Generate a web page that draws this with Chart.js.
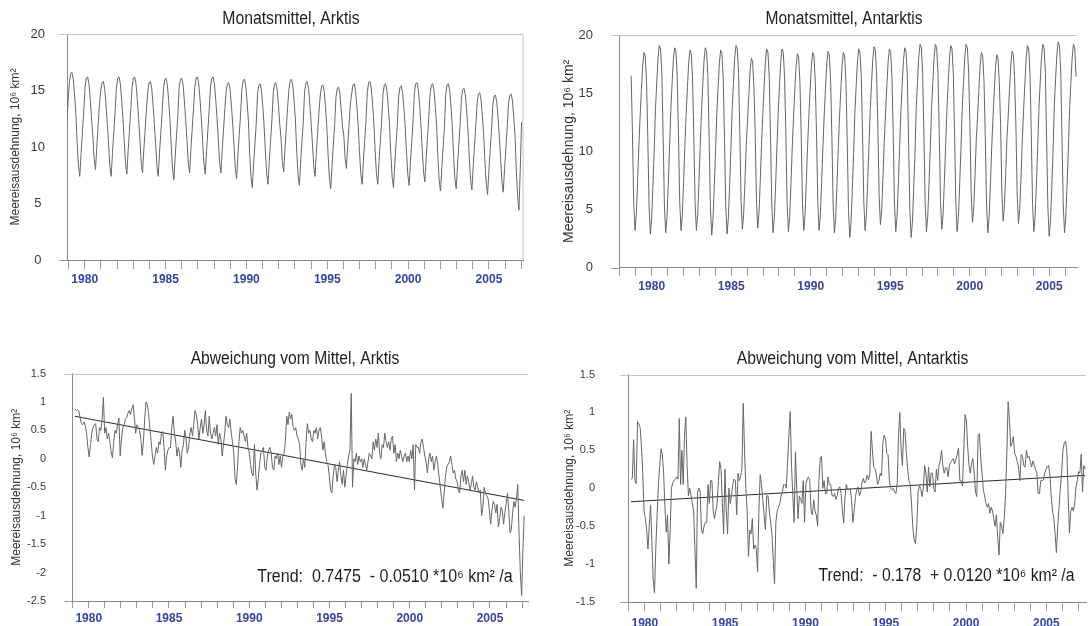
<!DOCTYPE html>
<html><head><meta charset="utf-8">
<script src="https://cdn.jsdelivr.net/npm/chart.js@4.4.1/dist/chart.umd.min.js"></script>
<style>
html,body{margin:0;padding:0;background:#fff;}
body{width:1088px;height:626px;position:relative;overflow:hidden;}
canvas{position:absolute;}
</style></head>
<body>
<canvas id="tl" width="545" height="300" style="left:0;top:0"></canvas>
<canvas id="tr" width="543" height="300" style="left:545px;top:0"></canvas>
<canvas id="bl" width="545" height="296" style="left:0;top:330px"></canvas>
<canvas id="br" width="543" height="296" style="left:545px;top:330px"></canvas>
<script>
// ---------- Daten ----------
const startJahr = 1978, startMonat = 11;   // erster Monatswert: Nov 1978
const jahre = [1978,1979,1980,1981,1982,1983,1984,1985,1986,1987,1988,1989,1990,1991,1992,1993,1994,1995,1996,1997,1998,1999,2000,2001,2002,2003,2004,2005,2006,2007];
const beschriftungsJahre = [1980,1985,1990,1995,2000,2005];

const arktisMonat = [
 12.1,14.0,
 15.7,16.5,16.6,16.0,14.6,12.9,10.3,8.3,7.4,9.5,11.3,13.1,
 15.3,16.1,16.2,15.6,14.2,12.5,10.9,8.9,8.0,10.0,11.9,13.7,
 15.0,15.7,15.8,15.2,13.8,12.1,10.3,8.3,7.4,9.5,11.3,13.1,
 15.2,16.1,16.2,15.6,14.2,12.5,10.5,8.5,7.6,9.7,11.5,13.3,
 15.3,16.1,16.2,15.6,14.2,12.5,10.6,8.6,7.7,9.8,11.6,13.4,
 14.9,15.7,15.8,15.2,13.8,12.1,10.3,8.3,7.4,9.5,11.3,13.1,
 15.1,16.0,16.1,15.5,14.1,12.4,10.0,8.0,7.1,9.2,11.0,12.8,
 15.2,16.0,16.1,15.5,14.1,12.4,10.6,8.6,7.7,9.8,11.6,13.4,
 15.3,16.1,16.2,15.6,14.2,12.5,10.5,8.5,7.6,9.7,11.5,13.3,
 15.3,16.1,16.2,15.6,14.2,12.5,10.6,8.6,7.7,9.8,11.6,13.4,
 15.0,15.6,15.7,15.1,13.7,12.0,10.1,8.1,7.2,9.3,11.1,12.9,
 15.1,15.9,16.0,15.4,14.0,12.3,9.3,7.3,6.4,8.5,10.3,12.1,
 14.7,15.5,15.6,15.0,13.6,11.9,9.6,7.6,6.7,8.8,10.6,12.4,
 14.8,15.6,15.7,15.1,13.7,12.0,10.7,8.7,7.8,9.9,11.7,13.5,
 15.1,15.9,16.0,15.4,14.0,12.3,9.5,7.5,6.6,8.7,10.5,12.3,
 14.9,15.7,15.8,15.2,13.8,12.1,10.3,8.3,7.4,9.5,11.3,13.1,
 14.6,15.4,15.5,14.9,13.5,11.8,9.2,7.2,6.3,8.4,10.2,12.0,
 14.4,15.2,15.3,14.7,13.3,11.8,11.0,9.0,8.1,10.2,12.0,13.8,
 14.7,15.5,15.6,15.0,13.6,11.9,9.6,7.6,6.7,8.8,10.6,12.4,
 14.9,15.7,15.8,15.2,13.8,12.1,9.6,7.6,6.7,8.8,10.6,12.4,
 14.7,15.5,15.6,15.0,13.6,11.9,9.3,7.3,6.4,8.5,10.3,12.1,
 14.5,15.3,15.4,14.8,13.4,11.7,9.5,7.5,6.6,8.7,10.5,12.3,
 14.8,15.6,15.7,15.1,13.7,12.0,9.8,7.8,6.9,9.0,10.8,12.6,
 14.7,15.5,15.6,15.0,13.6,11.9,9.0,7.0,6.1,8.2,10.0,11.8,
 14.7,15.5,15.6,15.0,13.6,11.9,9.2,7.2,6.3,8.4,10.2,12.0,
 14.3,15.1,15.2,14.6,13.2,11.5,9.1,7.1,6.2,8.3,10.1,11.9,
 13.9,14.7,14.8,14.2,12.8,11.1,8.7,6.7,5.8,7.9,9.7,11.5,
 13.7,14.5,14.6,14.0,12.6,10.9,8.9,6.9,6.0,8.1,9.9,11.7,
 13.8,14.6,14.7,14.1,12.7,11.0,7.9,5.6,4.4,8.0,12.2
];

const antarktisMonat = [
 16.5,11.6,
 5.6,3.2,4.5,7.3,10.4,13.0,15.3,17.4,18.5,18.2,16.1,11.2,
 5.3,2.9,4.2,7.0,10.1,13.6,15.9,18.0,19.1,18.8,16.7,11.3,
 5.4,3.0,4.3,7.1,10.2,13.5,15.8,17.9,18.9,18.6,16.5,11.5,
 5.6,3.2,4.5,7.3,10.4,13.2,15.5,17.6,18.7,18.4,16.3,11.4,
 5.6,3.2,4.5,7.3,10.4,13.4,15.7,17.8,18.9,18.6,16.5,11.1,
 5.2,2.8,4.1,6.9,10.0,13.2,15.5,17.6,18.7,18.4,16.3,11.2,
 5.3,2.9,4.2,7.0,10.1,13.6,15.9,18.0,19.1,18.8,16.7,11.6,
 5.7,3.3,4.6,7.4,10.5,12.5,14.8,16.9,18.0,17.7,15.6,11.7,
 5.8,3.4,4.7,7.5,10.6,13.3,15.6,17.7,18.8,18.5,16.4,11.3,
 5.4,3.0,4.3,7.1,10.2,13.3,15.6,17.7,18.8,18.5,16.4,11.5,
 5.5,3.1,4.4,7.2,10.3,12.9,15.2,17.3,18.4,18.1,16.0,11.5,
 5.6,3.2,4.5,7.3,10.4,13.0,15.3,17.4,18.5,18.2,16.1,11.5,
 5.6,3.2,4.5,7.3,10.4,13.1,15.4,17.5,18.6,18.3,16.2,11.3,
 5.4,3.0,4.3,7.1,10.2,13.0,15.3,17.4,18.5,18.2,16.1,10.9,
 5.0,2.6,3.9,6.7,9.8,13.3,15.6,17.7,18.8,18.5,16.4,11.5,
 5.6,3.2,4.5,7.3,10.4,13.5,15.8,17.9,19.0,18.7,16.6,12.0,
 6.1,3.7,5.0,7.8,10.9,13.3,15.6,17.7,18.8,18.5,16.4,11.4,
 5.5,3.1,4.4,7.2,10.3,13.4,15.7,17.8,18.9,18.6,16.5,10.9,
 5.0,2.6,3.9,6.7,9.8,13.7,16.0,18.1,19.2,18.9,16.8,11.4,
 5.5,3.1,4.4,7.2,10.3,13.7,16.0,18.1,19.2,18.9,16.8,11.6,
 5.7,3.3,4.6,7.4,10.5,13.6,15.9,18.0,19.1,18.8,16.7,11.4,
 5.5,3.1,4.4,7.2,10.3,13.7,16.0,18.1,19.2,18.9,16.8,12.2,
 6.3,3.9,5.2,8.0,11.1,13.0,15.3,17.4,18.5,18.2,16.1,11.3,
 5.4,3.0,4.3,7.1,10.2,12.8,15.1,17.2,18.3,18.0,15.9,12.3,
 6.4,4.0,5.3,8.1,11.2,13.1,15.4,17.5,18.6,18.3,16.2,12.1,
 6.2,3.8,5.1,7.9,11.0,13.6,15.9,18.0,19.1,18.8,16.7,11.4,
 5.5,3.1,4.4,7.2,10.3,13.7,16.0,18.1,19.2,18.9,16.8,11.0,
 5.1,2.7,4.0,6.8,9.9,13.9,16.2,18.3,19.4,19.1,17.0,11.4,
 5.4,3.0,4.3,7.1,10.2,13.7,16.0,18.1,19.2,18.9,16.4
];

const arktisAbweichung = [
 0.88,0.85,
 0.86,0.84,0.72,0.62,0.60,0.65,0.58,0.45,0.20,0.03,0.25,0.45,
 0.55,0.60,0.62,0.35,0.30,0.55,0.50,0.70,1.08,0.45,0.55,0.35,
 0.45,0.30,0.12,0.02,0.30,0.50,0.45,0.60,0.72,0.05,0.35,0.55,
 0.60,0.70,0.72,0.80,0.85,0.78,0.88,0.95,0.72,0.45,0.60,0.55,
 0.50,0.35,0.06,0.30,0.70,1.00,0.95,0.80,0.55,0.30,0.05,-0.10,
 0.05,0.20,0.10,0.30,0.25,0.45,0.48,0.20,-0.20,0.05,0.15,0.20,
 0.20,0.55,0.75,0.45,0.30,0.05,0.20,0.10,-0.15,0.15,0.25,0.50,
 0.35,0.10,0.20,0.45,0.55,0.40,0.60,0.85,0.78,0.60,0.35,0.55,
 0.70,0.45,0.60,0.85,0.50,0.40,0.75,0.45,0.35,0.45,0.55,0.40,
 0.60,0.25,0.45,0.35,0.05,0.25,0.45,0.75,0.60,0.55,0.70,0.45,
 0.30,0.10,-0.35,-0.45,-0.10,0.30,0.55,0.45,0.50,0.40,0.30,0.45,
 0.20,0.10,-0.10,-0.25,-0.30,0.25,-0.25,-0.55,-0.35,-0.10,0.10,0.15,
 0.20,-0.15,-0.20,0.05,0.15,0.20,0.10,-0.15,-0.20,0.05,0.00,0.10,
 -0.10,0.05,-0.15,0.05,0.10,0.30,0.75,0.60,0.82,0.70,0.78,0.55,
 0.50,0.55,0.40,0.35,0.25,-0.10,-0.20,0.00,-0.15,0.30,0.62,0.45,
 0.50,0.35,0.30,0.50,0.45,0.55,0.35,0.50,0.55,0.40,0.15,0.30,
 0.10,-0.05,-0.10,-0.30,-0.55,-0.60,-0.30,-0.10,-0.15,-0.40,-0.20,-0.05,
 -0.30,-0.45,-0.20,-0.50,-0.30,-0.10,0.05,0.15,1.15,-0.50,0.00,-0.05,
 0.10,-0.10,0.05,-0.05,0.00,-0.15,0.00,-0.10,-0.20,-0.05,0.10,0.05,
 0.00,0.30,0.15,0.35,0.20,0.45,0.10,0.00,0.25,0.20,0.45,0.30,
 0.20,0.30,0.15,0.35,0.40,0.10,0.25,-0.05,0.10,0.00,0.15,0.05,
 -0.05,0.05,0.10,-0.05,0.05,-0.05,0.15,0.00,0.25,-0.55,0.25,0.20,
 0.20,0.10,0.30,0.35,0.20,0.05,-0.05,-0.25,0.00,0.10,-0.05,0.05,
 -0.20,-0.05,0.05,-0.10,-0.30,-0.50,-0.70,-0.87,-0.60,-0.30,-0.15,-0.10,
 -0.05,0.05,-0.10,-0.25,-0.20,-0.35,-0.40,-0.55,-0.60,-0.30,-0.20,-0.40,
 -0.20,-0.45,-0.30,-0.40,-0.55,-0.45,-0.30,-0.50,-0.55,-0.40,-0.50,-0.60,
 -0.55,-1.00,-0.85,-0.50,-0.60,-0.65,-0.70,-0.90,-1.15,-0.90,-0.75,-0.80,
 -0.95,-0.80,-1.20,-1.05,-0.85,-0.90,-1.15,-0.95,-0.80,-0.60,-0.90,-1.30,
 -1.25,-0.95,-0.75,-0.85,-0.70,-0.45,-1.30,-2.00,-2.40,-1.60,-1.00
];

const antarktisAbweichung = [
 0.12,0.13,
 0.64,0.10,0.06,0.88,0.85,0.80,0.55,0.20,-0.30,-0.40,-0.55,-0.80,
 -0.50,-0.22,-0.70,-1.20,-1.38,-0.80,-0.35,0.05,0.30,0.52,0.45,0.20,
 -0.25,-0.58,-0.35,-1.00,-0.55,0.00,0.07,0.10,0.12,0.15,0.12,0.92,
 0.05,0.50,0.05,0.70,0.94,0.30,-0.10,0.00,-0.10,-0.20,-0.30,-0.80,
 -1.32,-0.05,0.00,-0.05,-0.55,-0.60,-0.50,-0.45,-0.45,0.05,-0.20,0.10,
 0.10,-0.30,-0.40,-0.30,-0.20,0.10,0.35,0.25,-0.20,-0.60,0.25,-0.30,
 -0.60,0.00,-0.20,-0.10,0.05,0.12,0.10,-0.35,0.20,0.10,0.15,0.25,
 1.12,0.50,0.00,-0.30,-0.90,-0.55,-0.60,-0.40,-0.80,-0.75,-0.80,-1.10,
 -0.30,0.18,0.05,-0.15,-0.35,-0.55,-0.10,-0.10,-0.30,-0.45,-0.60,-0.95,
 -1.26,-0.45,-0.30,-0.25,-0.20,-0.10,-0.05,0.05,0.05,0.00,0.35,0.70,
 1.01,0.30,-0.10,-0.45,0.48,0.00,-0.40,-0.10,-0.15,-0.20,0.10,-0.45,
 0.05,0.12,0.15,0.10,-0.30,-0.35,-0.15,-0.30,-0.35,-0.50,0.10,0.40,
 0.42,0.00,0.10,-0.07,-0.07,0.15,0.05,0.05,-0.09,-0.11,-0.07,-0.15,
 -0.10,0.00,0.02,-0.07,-0.30,-0.46,-0.11,0.05,-0.02,-0.02,0.00,-0.15,
 -0.45,-0.30,-0.11,-0.02,0.02,-0.10,-0.05,0.07,0.13,0.07,0.10,0.17,
 0.11,0.20,0.75,0.50,0.28,0.26,0.18,0.05,0.10,0.20,0.16,0.60,
 0.70,0.65,0.46,0.44,0.10,0.00,-0.02,0.00,-0.05,-0.07,0.06,0.70,
 1.00,0.50,0.30,0.79,0.75,0.46,0.25,0.10,0.05,-0.22,-0.52,-0.68,
 -0.73,-0.50,-0.05,0.03,0.00,-0.11,0.00,0.30,0.20,-0.05,0.28,0.02,
 0.20,0.20,0.00,-0.05,0.25,0.10,0.30,0.37,0.50,0.30,0.20,0.27,
 0.27,0.15,0.30,0.34,0.37,0.39,0.32,0.38,0.45,0.53,0.10,0.10,
 0.03,0.50,0.97,0.90,0.55,0.30,0.20,0.33,0.39,0.20,-0.05,-0.11,
 0.70,0.72,0.40,0.20,-0.02,-0.10,-0.20,-0.25,-0.20,-0.33,-0.25,-0.30,
 -0.40,-0.50,-0.35,-0.65,-0.88,-0.45,-0.50,-0.60,-0.40,-0.10,0.45,1.14,
 0.90,0.55,0.60,0.68,0.46,0.42,0.35,0.28,0.10,0.45,0.42,0.30,
 0.28,0.50,0.40,0.42,0.35,0.28,0.36,0.30,0.25,0.20,-0.07,-0.07,
 0.10,0.10,0.11,0.20,0.25,0.28,0.30,0.18,-0.10,-0.30,-0.40,-0.60,
 -0.85,-0.50,-0.25,0.00,0.20,0.50,0.60,0.62,0.50,-0.10,-0.59,-0.30,
 -0.25,-0.30,-0.20,0.02,0.10,0.22,0.20,0.45,-0.05,0.30,0.25
];

// Trendgeraden (Koeffizienten laut Beschriftung, Endpunkte Nov 1978 / Nov 2007)
const trendArktis = [0.7475, -0.7315];
const trendAntarktis = [-0.178, 0.170];

// ---------- Darstellung ----------
const FONT = '"Liberation Sans", Arial, Helvetica, sans-serif';
Chart.defaults.font.family = FONT;

function monatsZeit(i) { return startJahr + (startMonat - 1 + i) / 12; }

function skalierterText(ctx, s, x, y, size, sx, color) {
  ctx.save();
  ctx.translate(x, y);
  ctx.scale(sx, 1);
  ctx.font = size + 'px ' + FONT;
  ctx.textAlign = 'center';
  ctx.textBaseline = 'middle';
  ctx.fillStyle = color;
  ctx.fillText(s, 0, 0);
  ctx.restore();
}

function panel(id, p) {
  const werte = p.werte;
  const datasets = [{
    data: werte.map((v, i) => ({x: monatsZeit(i), y: v})),
    xAxisID: 'xd', yAxisID: 'y',
    borderColor: '#666666', borderWidth: 1, pointRadius: 0, tension: 0, fill: false
  }];
  if (p.trend) {
    datasets.push({
      data: [{x: monatsZeit(0), y: p.trend[0]}, {x: monatsZeit(werte.length - 1), y: p.trend[1]}],
      xAxisID: 'xd', yAxisID: 'y',
      borderColor: '#2a2a2a', borderWidth: 1, pointRadius: 0, fill: false
    });
  }
  const deko = {
    id: 'deko',
    afterDraw(chart) {
      const ctx = chart.ctx, a = chart.chartArea;
      const t = Math.round(a.top) + 0.5, b = Math.round(a.bottom) - 0.5;
      ctx.save();
      ctx.lineWidth = 1;
      ctx.strokeStyle = '#c4c4c4';
      ctx.beginPath();
      ctx.moveTo(a.left - 8, t);
      ctx.lineTo(a.right, t);
      if (p.rechts) ctx.lineTo(a.right, a.bottom);
      ctx.stroke();
      ctx.strokeStyle = '#9a9a9a';
      ctx.beginPath();
      ctx.moveTo(a.left - 8, b + 1);
      ctx.lineTo(a.left, b + 1);
      ctx.stroke();
      ctx.restore();
      skalierterText(ctx, p.titel, p.titelX, p.titelY, 18, p.titelSx, '#1e1e1e');
      if (p.trendText) skalierterText(ctx, p.trendText, p.trendX, p.trendY, 18, p.trendSx, '#1e1e1e');
    }
  };
  return new Chart(document.getElementById(id), {
    type: 'line',
    data: {datasets},
    options: {
      responsive: false, animation: false, devicePixelRatio: 1,
      layout: {autoPadding: false, padding: {left: 0, top: p.oben, right: p.rechtsPad, bottom: 0}},
      plugins: {legend: {display: false}, tooltip: {enabled: false}, title: {display: false}},
      scales: {
        xd: {type: 'linear', display: false, min: p.datenMin, max: p.datenMax},
        x: {
          type: 'linear', position: 'bottom', min: p.achseMin, max: p.achseMax,
          afterBuildTicks: s => { s.ticks = jahre.filter(j => j >= s.min && j <= s.max).map(v => ({value: v})); },
          ticks: {
            autoSkip: false, maxRotation: 0, minRotation: 0, padding: p.xPad,
            callback: v => beschriftungsJahre.includes(v) ? String(v) : '',
            color: '#3446a0', font: {size: 12, weight: 'bold'}
          },
          grid: {drawOnChartArea: false, drawTicks: true, tickLength: p.xTick, tickColor: '#9a9a9a'},
          border: {color: '#8a8a8a', width: 1},
          afterFit: s => { s.height = p.xHoehe; }
        },
        y: {
          type: 'linear', position: 'left', min: p.yMin, max: p.yMax,
          ticks: {
            stepSize: p.yStep, padding: 2, crossAlign: p.yAlign,
            callback: v => String(v), color: '#3a3a3a', font: {size: p.yFont}
          },
          grid: {drawOnChartArea: false, drawTicks: true, tickLength: p.yAbstand, tickColor: 'rgba(0,0,0,0)'},
          border: {color: '#8a8a8a', width: 1},
          title: {display: true, text: 'Meereisausdehnung, 10⁶ km²', color: '#333', font: {size: p.yTitelFont}, padding: {top: p.yTitelPad, bottom: 0}},
          afterFit: s => { s.width = p.yBreite; }
        }
      }
    },
    plugins: [deko]
  });
}

panel('tl', {
  werte: arktisMonat, titel: 'Monatsmittel, Arktis', titelX: 291, titelY: 19, titelSx: 0.875,
  oben: 34, rechtsPad: 22, xHoehe: 40, yBreite: 67, rechts: true,
  datenMin: 1978.85, datenMax: 2007.925, achseMin: 1978.905, achseMax: 2007.105,
  xPad: 3, xTick: 9, yMin: 0, yMax: 20, yStep: 5, yAbstand: 20, yAlign: 'center', yFont: 13,
  yTitelFont: 12, yTitelPad: 8
});
panel('tr', {
  werte: antarktisMonat, titel: 'Monatsmittel, Antarktis', titelX: 299, titelY: 19, titelSx: 0.862,
  oben: 35, rechtsPad: 11, xHoehe: 32.3, yBreite: 74, rechts: false,
  datenMin: 1978.04, datenMax: 2007.897, achseMin: 1977.943, achseMax: 2006.748,
  xPad: 4, xTick: 8, yMin: 0, yMax: 20, yStep: 5, yAbstand: 24, yAlign: 'near', yFont: 13,
  yTitelFont: 14, yTitelPad: 16
});
panel('bl', {
  werte: arktisAbweichung, trend: trendArktis,
  titel: 'Abweichung vom Mittel, Arktis', titelX: 295, titelY: 29, titelSx: 0.869,
  trendText: 'Trend:  0.7475  - 0.0510 *10⁶ km² /a', trendX: 385, trendY: 247, trendSx: 0.89,
  oben: 43.5, rechtsPad: 17, xHoehe: 25, yBreite: 72.7, rechts: false,
  datenMin: 1978.685, datenMax: 2008.078, achseMin: 1979.0, achseMax: 2007.368,
  xPad: 3, xTick: 7, yMin: -2.5, yMax: 1.5, yStep: 0.5, yAbstand: 24.7, yAlign: 'near', yFont: 11,
  yTitelFont: 12, yTitelPad: 9
});
panel('br', {
  werte: antarktisAbweichung, trend: trendAntarktis,
  titel: 'Abweichung vom Mittel, Antarktis', titelX: 307.5, titelY: 29.5, titelSx: 0.874,
  trendText: 'Trend:  - 0.178  + 0.0120 *10⁶ km² /a', trendX: 401.5, trendY: 246, trendSx: 0.875,
  oben: 44.5, rechtsPad: 2, xHoehe: 24, yBreite: 83.3, rechts: false,
  datenMin: 1978.661, datenMax: 2007.889, achseMin: 1978.969, achseMax: 2007.469,
  xPad: 5, xTick: 9, yMin: -1.5, yMax: 1.5, yStep: 0.5, yAbstand: 31.3, yAlign: 'near', yFont: 11,
  yTitelFont: 12, yTitelPad: 17
});
</script>
</body></html>
